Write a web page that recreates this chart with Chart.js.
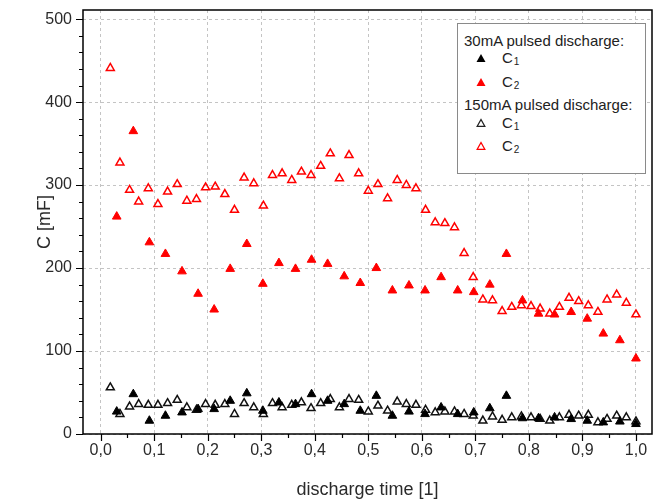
<!DOCTYPE html>
<html>
<head>
<meta charset="utf-8">
<script src="https://cdn.jsdelivr.net/npm/chart.js@4.4.0/dist/chart.umd.min.js"></script>
<style>
html, body { margin: 0; padding: 0; background: #fff; }
#wrap { position: relative; width: 659px; height: 502px; }
#legend {
  position: absolute; left: 457px; top: 23px; width: 187px; height: 149px;
  border: 1px solid #8a8a8a; background: #fff;
  font-family: "Liberation Sans", Arial, sans-serif; font-size: 15px; color: #222;
}
#legend div { position: absolute; white-space: nowrap; line-height: 18px; }
#legend sub { font-size: 10px; position: relative; top: 2px; vertical-align: baseline; margin-left: 1px; }
#legend svg { position: absolute; }
</style>
</head>
<body>
<div id="wrap">
  <canvas id="CapChart" width="659" height="502"></canvas>
  <div id="legend">
    <div style="left:6px; top:8px;">30mA pulsed discharge:</div>
    <svg style="left:18px; top:29px;" width="10" height="10"><polygon points="5,1 9.5,9 0.5,9" fill="#000"/></svg>
    <div style="left:44px; top:25px;">C<sub>1</sub></div>
    <svg style="left:18px; top:53px;" width="10" height="10"><polygon points="5,1 9.5,9 0.5,9" fill="#ff0000"/></svg>
    <div style="left:44px; top:49px;">C<sub>2</sub></div>
    <div style="left:6px; top:72px;">150mA pulsed discharge:</div>
    <svg style="left:18px; top:94px;" width="10" height="10"><polygon points="5,1.5 8.8,8.3 1.2,8.3" fill="none" stroke="#222" stroke-width="1.3"/></svg>
    <div style="left:44px; top:90px;">C<sub>1</sub></div>
    <svg style="left:18px; top:117px;" width="10" height="10"><polygon points="5,1.5 8.8,8.3 1.2,8.3" fill="none" stroke="#ff0000" stroke-width="1.3"/></svg>
    <div style="left:44px; top:113px;">C<sub>2</sub></div>
  </div>
</div>
<script>
// discharge time positions
const time30 = [0.030, 0.061, 0.091, 0.121, 0.152, 0.182, 0.212, 0.242, 0.273, 0.303,
  0.333, 0.364, 0.394, 0.424, 0.455, 0.485, 0.515, 0.545, 0.576, 0.606,
  0.636, 0.667, 0.697, 0.727, 0.758, 0.788, 0.818, 0.848, 0.879, 0.909,
  0.939, 0.970, 1.000];
const time150 = [0.018, 0.036, 0.054, 0.071, 0.089, 0.107, 0.125, 0.143, 0.161, 0.179,
  0.196, 0.214, 0.232, 0.250, 0.268, 0.286, 0.304, 0.321, 0.339, 0.357,
  0.375, 0.393, 0.411, 0.429, 0.446, 0.464, 0.482, 0.500, 0.518, 0.536,
  0.554, 0.571, 0.589, 0.607, 0.625, 0.643, 0.661, 0.679, 0.696, 0.714,
  0.732, 0.750, 0.768, 0.786, 0.804, 0.821, 0.839, 0.857, 0.875, 0.893,
  0.911, 0.929, 0.946, 0.964, 0.982, 1.000];

// capacitance [mF]
const c1_30 = [27, 48, 16, 22, 26, 30, 30, 40, 49, 28, 38, 36, 48, 40, 36, 28, 46, 22, 27, 24,
  32, 24, 26, 31, 46, 19, 19, 20, 18, 16, 14, 15, 12];
const c2_30 = [262, 365, 231, 217, 196, 169, 150, 199, 229, 181, 206, 199, 210, 205, 190, 182, 200, 173, 179, 173,
  189, 173, 171, 180, 217, 161, 145, 144, 147, 139, 121, 113, 91];
const c1_150 = [56, 24, 33, 36, 35, 35, 37, 41, 32, 29, 36, 35, 36, 24, 37, 32, 24, 37, 32, 35,
  38, 31, 37, 42, 32, 42, 41, 27, 34, 28, 39, 36, 35, 29, 26, 27, 27, 24, 22, 16,
  21, 17, 20, 21, 20, 18, 16, 20, 23, 22, 23, 14, 18, 22, 20, 15];
const c2_150 = [441, 327, 294, 280, 296, 277, 292, 301, 281, 283, 297, 298, 289, 270, 309, 302, 275, 312, 314, 306,
  316, 312, 323, 338, 308, 336, 314, 293, 301, 284, 306, 300, 296, 270, 255, 254, 249, 218, 189, 162,
  161, 148, 153, 155, 154, 151, 145, 153, 164, 160, 155, 147, 162, 168, 158, 144];

const pts = (xs, ys) => xs.map((x, i) => ({x: x, y: ys[i]}));
const onStep = (v, step) => Math.abs(v / step - Math.round(v / step)) < 1e-6;
const fontFam = '"Liberation Sans", Arial, sans-serif';

// frame + outward tick marks like Origin
const axisFrame = {
  id: 'axisFrame',
  afterDraw(chart) {
    const {ctx, chartArea: a, scales: {x, y}} = chart;
    ctx.save();
    ctx.strokeStyle = '#000';
    ctx.lineWidth = 1.5;
    ctx.strokeRect(a.left, a.top, a.right - a.left, a.bottom - a.top);
    ctx.lineWidth = 1.2;
    ctx.beginPath();
    x.ticks.forEach(t => {
      const px = Math.round(x.getPixelForValue(t.value)) + 0.5;
      const len = onStep(t.value, 0.1) ? 7 : 4;
      ctx.moveTo(px, a.bottom);
      ctx.lineTo(px, a.bottom + len);
    });
    y.ticks.forEach(t => {
      const py = Math.round(y.getPixelForValue(t.value)) + 0.5;
      const len = onStep(t.value, 100) ? 7 : 4;
      ctx.moveTo(a.left, py);
      ctx.lineTo(a.left - len, py);
    });
    ctx.stroke();
    ctx.restore();
  }
};

const noPad = s => { s.paddingTop = 0; s.paddingBottom = 0; s.paddingLeft = 0; s.paddingRight = 0; };

const ctxCap = document.getElementById('CapChart');
const dataCap = {
  datasets: [
    {
      label: '30mA C1',
      data: pts(time30, c1_30),
      pointStyle: 'triangle',
      pointRadius: 5,
      backgroundColor: '#000',
      borderColor: '#000',
      borderWidth: 1
    },
    {
      label: '30mA C2',
      data: pts(time30, c2_30),
      pointStyle: 'triangle',
      pointRadius: 5,
      backgroundColor: '#ff0000',
      borderColor: '#ff0000',
      borderWidth: 1
    },
    {
      label: '150mA C1',
      data: pts(time150, c1_150),
      pointStyle: 'triangle',
      pointRadius: 4.6,
      backgroundColor: 'rgba(0,0,0,0)',
      borderColor: '#111',
      borderWidth: 1.5
    },
    {
      label: '150mA C2',
      data: pts(time150, c2_150),
      pointStyle: 'triangle',
      pointRadius: 4.6,
      backgroundColor: 'rgba(0,0,0,0)',
      borderColor: '#ff0000',
      borderWidth: 1.5
    }
  ]
};
const configCap = {
  type: 'scatter',
  data: dataCap,
  plugins: [axisFrame],
  options: {
    responsive: false,
    animation: false,
    devicePixelRatio: 1,
    layout: { padding: { left: 0, top: 10, right: 7, bottom: 0 } },
    plugins: { legend: { display: false }, tooltip: { enabled: false } },
    scales: {
      x: {
        type: 'linear',
        min: -0.033,
        max: 1.03,
        afterFit: s => { noPad(s); s.height = 68; },
        border: { display: false, dash: [3, 3] },
        grid: {
          drawTicks: false,
          lineWidth: 1,
          color: c => onStep(c.tick.value, 0.1) ? '#c4c4c4' : 'rgba(0,0,0,0)'
        },
        ticks: {
          stepSize: 0.05,
          includeBounds: false,
          autoSkip: false,
          maxRotation: 0,
          padding: 7,
          color: '#2a2a2a',
          font: { family: fontFam, size: 16 },
          callback: v => onStep(v, 0.1) ? (Math.round(v * 10) / 10).toFixed(1).replace('.', ',') : ''
        },
        title: {
          display: true,
          text: 'discharge time [1]',
          color: '#2a2a2a',
          font: { family: fontFam, size: 18 },
          padding: { top: 0, bottom: 1 }
        }
      },
      y: {
        type: 'linear',
        min: 0,
        max: 511,
        afterFit: s => { noPad(s); s.width = 83; },
        border: { display: false, dash: [3, 3] },
        grid: {
          drawTicks: false,
          lineWidth: 1,
          color: c => onStep(c.tick.value, 100) ? '#c4c4c4' : 'rgba(0,0,0,0)'
        },
        ticks: {
          stepSize: 20,
          includeBounds: false,
          autoSkip: false,
          padding: 11,
          color: '#2a2a2a',
          font: { family: fontFam, size: 16 },
          callback: v => onStep(v, 100) ? String(Math.round(v)) : ''
        },
        title: {
          display: true,
          text: 'C [mF]',
          color: '#2a2a2a',
          font: { family: fontFam, size: 18 },
          padding: { top: 34, bottom: 0 }
        }
      }
    }
  }
};
new Chart(ctxCap, configCap);
</script>
</body>
</html>
